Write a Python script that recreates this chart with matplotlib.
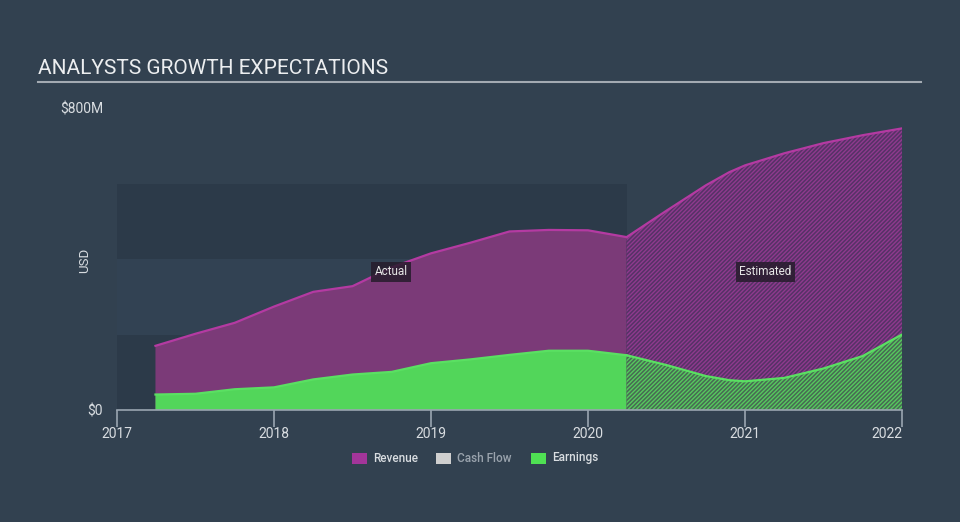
import matplotlib
matplotlib.use('Agg')
import matplotlib.pyplot as plt
from matplotlib.patches import Rectangle
from matplotlib.lines import Line2D

plt.rcParams['font.family'] = ['Roboto', 'DejaVu Sans']
plt.rcParams['hatch.linewidth'] = 1.0

# ---- data (USD millions) ----
actual_years = [2017.245, 2017.5, 2017.75, 2018.0, 2018.25, 2018.5, 2018.75,
                2019.0, 2019.25, 2019.5, 2019.75, 2020.0, 2020.246]
actual_revenue = [170, 202, 231, 274, 313, 328, 378, 415, 443, 473, 477, 476, 458]
actual_earnings = [41, 43, 55, 60, 81, 94, 101, 124, 134, 146, 157, 157, 145]

est_years = [2020.246, 2020.5, 2020.75, 2020.9, 2021.0, 2021.25, 2021.5, 2021.75, 2022.0]
est_revenue = [458, 528, 595, 630, 648, 680, 707, 728, 746]
est_earnings = [145, 119, 90, 79, 76, 85, 110, 143, 200]

x_ticks = [2017, 2018, 2019, 2020, 2021, 2022]
y_ticks = [0, 800]
y_tick_labels = ['$0', '$800M']
band_edges = [0, 200, 400, 600]

legend_names = ['Revenue', 'Cash Flow', 'Earnings']
legend_colors = ['#a3359a', '#cfcfcf', '#4fe053']
legend_text_colors = ['#d9dde1', '#9aa3ad', '#d9dde1']

BG = '#324150'
DARK = '#2c3a49'

fig = plt.figure(figsize=(9.6, 5.22), dpi=100, facecolor=BG)
ax = fig.add_axes([117/960, 112/522, 785/960, 302/522])
ax.set_facecolor(BG)
ax.set_xlim(2017, 2022)
ax.set_ylim(0, 800)

# shaded "actual" region with bands
x_split = actual_years[-1]
for i in range(len(band_edges) - 1):
    col = DARK if i != 1 else '#324253'
    ax.add_patch(Rectangle((2017, band_edges[i]), x_split - 2017,
                           band_edges[i + 1] - band_edges[i],
                           facecolor=col, edgecolor='none', zorder=0))

# actual areas
ax.fill_between(actual_years, 0, actual_revenue, facecolor='#7b3a78',
                edgecolor='none', zorder=2)
ax.plot(actual_years, actual_revenue, color='#b43aa2', lw=1.6, zorder=4)
ax.fill_between(actual_years, 0, actual_earnings, facecolor='#52d65a',
                edgecolor='none', zorder=3)
ax.plot(actual_years, actual_earnings, color='#5ae062', lw=1.6, zorder=4)

# estimated areas (hatched)
ax.fill_between(est_years, 0, est_revenue, facecolor='#563266',
                edgecolor='#8f3a8e', hatch='////////', linewidth=0, zorder=2)
ax.plot(est_years, est_revenue, color='#b43aa2', lw=1.6, zorder=4)
ax.fill_between(est_years, 0, est_earnings, facecolor='#486a53',
                edgecolor='#56c95e', hatch='////////', linewidth=0, zorder=3)
ax.plot(est_years, est_earnings, color='#5ae062', lw=1.6, zorder=4)

# labels
box = dict(boxstyle='square,pad=0.3', facecolor='#261c2c', edgecolor='none', alpha=0.85)
ax.text(2018.745, 366, 'Actual', color='#e6e6e6', fontsize=8.5,
        ha='center', va='center', bbox=box, zorder=6)
ax.text(2021.13, 366, 'Estimated', color='#e6e6e6', fontsize=8.5,
        ha='center', va='center', bbox=box, zorder=6)

# axes styling
for s in ['top', 'right', 'left']:
    ax.spines[s].set_visible(False)
ax.spines['bottom'].set_color('#9aa5b1')
ax.spines['bottom'].set_linewidth(1.2)
ax.spines['bottom'].set_zorder(5)
ax.set_xticks(x_ticks)
ax.set_xticklabels([str(t) for t in x_ticks])
ax.tick_params(axis='x', direction='out', length=12, width=1.2,
               color='#9aa5b1', labelcolor='#d9dde1', labelsize=10, pad=0)
ax.get_xticklabels()[-1].set_horizontalalignment('right')
ax.set_yticks(y_ticks)
ax.set_yticklabels(y_tick_labels)
ax.tick_params(axis='y', length=0, pad=10, labelcolor='#d9dde1', labelsize=10)

fig.text(85/960, 1 - 260/522, 'USD', rotation=90, ha='center', va='center',
         color='#d9dde1', fontsize=9.5)

# title
fig.text(38/960, 1 - 68/522, 'ANALYSTS GROWTH EXPECTATIONS', color='#eceef0',
         fontsize=15, ha='left', va='center')
fig.add_artist(Line2D([38/960, 921/960], [1 - 82/522, 1 - 82/522],
                      color='#a3aab2', lw=1.5))

# legend
lx = [352, 436, 531]
for x0, name, c, tc in zip(lx, legend_names, legend_colors, legend_text_colors):
    fig.add_artist(Rectangle((x0/960, 1 - 463.5/522), 15/960, 11/522,
                             facecolor=c, edgecolor='none',
                             transform=fig.transFigure))
    fig.text((x0 + 21)/960, 1 - 458/522, name, color=tc, fontsize=8.5,
             fontweight='medium', ha='left', va='center')

fig.savefig('out.png', dpi=100, facecolor=BG)
